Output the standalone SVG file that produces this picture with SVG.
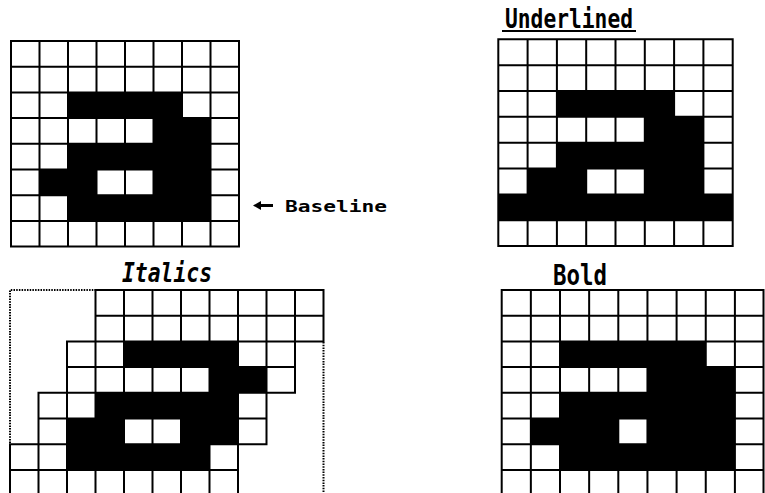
<svg xmlns="http://www.w3.org/2000/svg" width="765" height="493" viewBox="0 0 765 493">
<style>
.bg{fill:#fff}
.fill{fill:#000}
.grid{fill:none;stroke:#000;stroke-width:2;stroke-linecap:square}
.dot{fill:none;stroke:#000;stroke-width:2;stroke-dasharray:1.5 1.2}
.lbl{font-family:"DejaVu Sans Mono","Liberation Mono",monospace;font-weight:bold;fill:#000}
</style>
<rect class="bg" x="0" y="0" width="765" height="493"/>

<g id="normal">
<rect class="fill" x="68" y="92.4" width="114" height="25.7"/>
<rect class="fill" x="153.5" y="118.1" width="57" height="25.7"/>
<rect class="fill" x="68" y="143.8" width="142.5" height="25.7"/>
<rect class="fill" x="39.5" y="169.5" width="57" height="25.7"/>
<rect class="fill" x="153.5" y="169.5" width="57" height="25.7"/>
<rect class="fill" x="68" y="195.2" width="142.5" height="25.7"/>
<path class="grid" d="M11 41V246.6M39.5 41V246.6M68 41V246.6M96.5 41V246.6M125 41V246.6M153.5 41V246.6M182 41V246.6M210.5 41V246.6M239 41V246.6
M11 41H239M11 66.7H239M11 92.4H239M11 118.1H239M11 143.8H239M11 169.5H239M11 195.2H239M11 220.9H239M11 246.6H239"/>
</g>

<g id="baseline-label">
<path d="M259 205.5H273" fill="none" stroke="#000" stroke-width="3"/>
<path d="M253 205.5L261 201V210Z" fill="#000"/>
<text class="lbl" x="285" y="211.8" font-size="16" textLength="102" lengthAdjust="spacingAndGlyphs">Baseline</text>
</g>

<g id="underlined">
<text class="lbl" x="505" y="27.5" font-size="26" textLength="128" lengthAdjust="spacingAndGlyphs">Underlined</text>
<path class="grid" d="M503 31H635"/>
<rect class="fill" x="556.9" y="91" width="117.2" height="25.85"/>
<rect class="fill" x="644.8" y="116.85" width="58.6" height="25.85"/>
<rect class="fill" x="556.9" y="142.7" width="146.5" height="25.85"/>
<rect class="fill" x="527.6" y="168.55" width="58.6" height="25.85"/>
<rect class="fill" x="644.8" y="168.55" width="58.6" height="25.85"/>
<rect class="fill" x="498.3" y="194.4" width="234.4" height="25.85"/>
<path class="grid" d="M498.3 39.3V246.1M527.6 39.3V246.1M556.9 39.3V246.1M586.2 39.3V246.1M615.5 39.3V246.1M644.8 39.3V246.1M674.1 39.3V246.1M703.4 39.3V246.1M732.7 39.3V246.1
M498.3 39.3H732.7M498.3 65.15H732.7M498.3 91H732.7M498.3 116.85H732.7M498.3 142.7H732.7M498.3 168.55H732.7M498.3 194.4H732.7M498.3 220.25H732.7M498.3 246.1H732.7"/>
</g>

<g id="italics">
<text class="lbl" x="122" y="281.5" font-size="27" font-style="italic" textLength="90" lengthAdjust="spacingAndGlyphs">Italics</text>
<path class="dot" d="M96 290H10V444M323.5 342V493"/>
<rect class="fill" x="124" y="341.4" width="114" height="25.7"/>
<rect class="fill" x="209.5" y="367.1" width="57" height="25.7"/>
<rect class="fill" x="95.5" y="392.8" width="142.5" height="25.7"/>
<rect class="fill" x="67" y="418.5" width="57" height="25.7"/>
<rect class="fill" x="181" y="418.5" width="57" height="25.7"/>
<rect class="fill" x="67" y="444.2" width="142.5" height="25.7"/>
<path class="grid" d="M95.5 290V341.4M124 290V341.4M152.5 290V341.4M181 290V341.4M209.5 290V341.4M238 290V341.4M266.5 290V341.4M295 290V341.4M323.5 290V341.4
M95.5 290H323.5M95.5 315.7H323.5M67 341.4H323.5
M67 341.4V392.8M95.5 341.4V392.8M124 341.4V392.8M152.5 341.4V392.8M181 341.4V392.8M209.5 341.4V392.8M238 341.4V392.8M266.5 341.4V392.8M295 341.4V392.8
M67 367.1H295M38.5 392.8H295
M38.5 392.8V444.2M67 392.8V444.2M95.5 392.8V444.2M124 392.8V444.2M152.5 392.8V444.2M181 392.8V444.2M209.5 392.8V444.2M238 392.8V444.2M266.5 392.8V444.2
M38.5 418.5H266.5M10 444.2H266.5
M10 444.2V495M38.5 444.2V495M67 444.2V495M95.5 444.2V495M124 444.2V495M152.5 444.2V495M181 444.2V495M209.5 444.2V495M238 444.2V495
M10 469.9H238"/>
</g>

<g id="bold">
<text class="lbl" x="553" y="285" font-size="28" textLength="54" lengthAdjust="spacingAndGlyphs">Bold</text>
<rect class="fill" x="560" y="341.4" width="145.75" height="25.7"/>
<rect class="fill" x="647.45" y="367.1" width="87.45" height="25.7"/>
<rect class="fill" x="560" y="392.8" width="174.9" height="25.7"/>
<rect class="fill" x="530.85" y="418.5" width="87.45" height="25.7"/>
<rect class="fill" x="647.45" y="418.5" width="87.45" height="25.7"/>
<rect class="fill" x="560" y="444.2" width="174.9" height="25.7"/>
<path class="grid" d="M501.7 290V495M530.85 290V495M560 290V495M589.15 290V495M618.3 290V495M647.45 290V495M676.6 290V495M705.75 290V495M734.9 290V495M763.5 290V495
M501.7 290H763.5M501.7 315.7H763.5M501.7 341.4H763.5M501.7 367.1H763.5M501.7 392.8H763.5M501.7 418.5H763.5M501.7 444.2H763.5M501.7 469.9H763.5"/>
</g>
</svg>
